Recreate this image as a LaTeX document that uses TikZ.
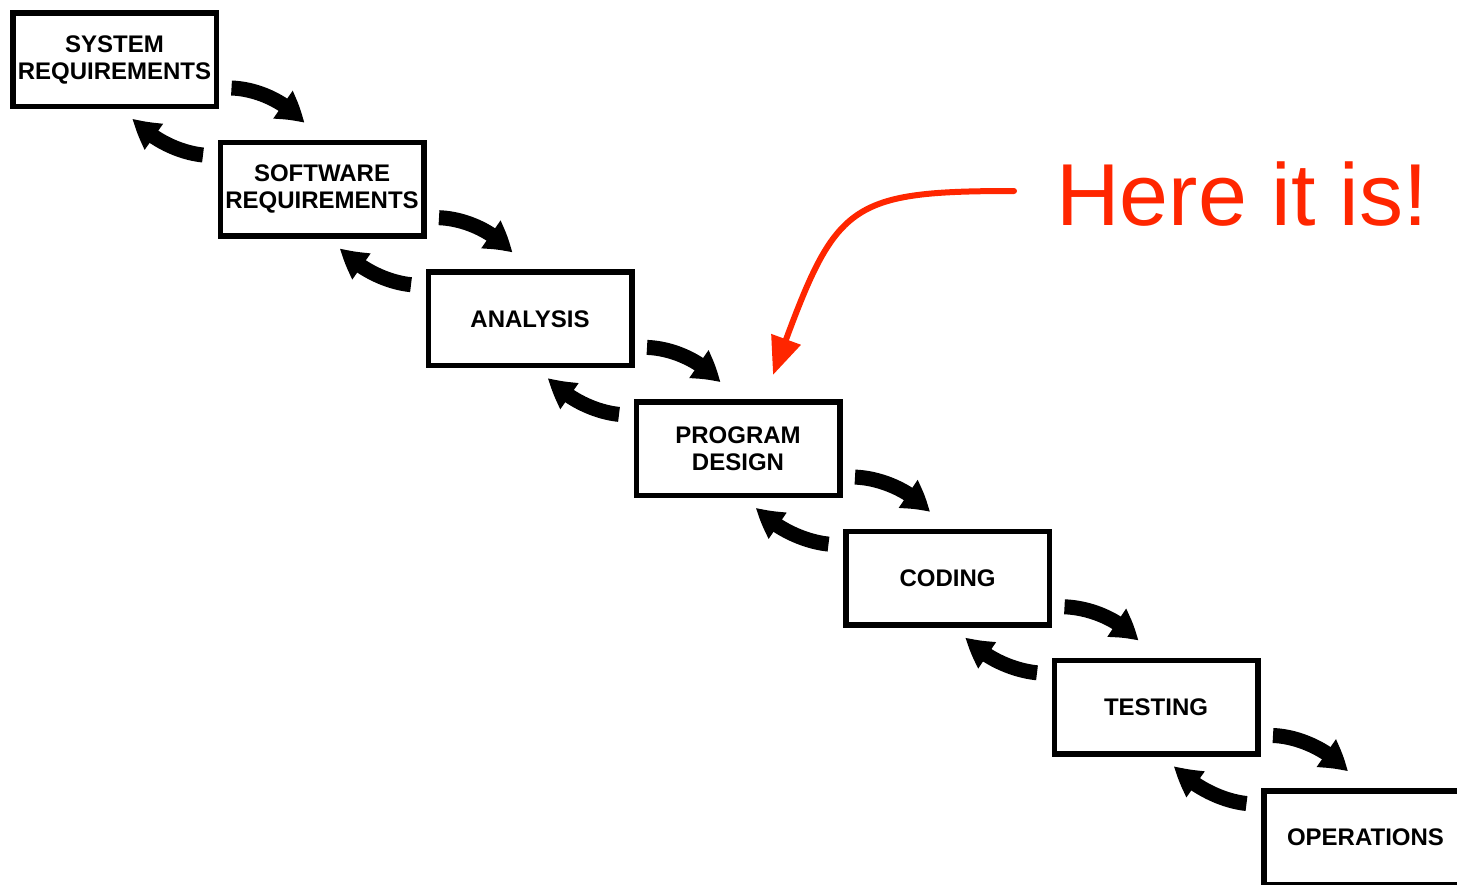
\documentclass[tikz,border=0pt]{standalone}
\usepackage{fontspec}
\setmainfont{Liberation Sans}
\usetikzlibrary{arrows.meta,bending}
\definecolor{notered}{RGB}{255,38,0}
\begin{document}
\begin{tikzpicture}[x=0.5pt,y=-0.5pt,
  stage/.style={draw=black, line width=2.75pt, minimum width=101.75pt,
    minimum height=46.75pt, inner sep=0pt, align=center,
    font=\bfseries\fontsize{12}{13.5}\selectfont},
  flow/.style={line width=7.5pt, -{Triangle[length=14pt,width=16pt,bend]}},
  backflow/.style={line width=7.5pt, -{Triangle[length=14pt,width=15pt,bend]}},
  callout/.style={notered, line width=3pt, line cap=round,
    -{Triangle[length=19pt,width=15pt]}},
]
\useasboundingbox (0,0) rectangle (1457,884);
\clip (0,0) rectangle (1457,884);

% the seven stages, stepping down to the right
\node[stage] (s1) at (114.5,59.5)  {SYSTEM\\REQUIREMENTS};
\node[stage] (s2) at (322,189.2)   {SOFTWARE\\REQUIREMENTS};
\node[stage] (s3) at (530,318.9)   {ANALYSIS};
\node[stage] (s4) at (738,448.6)   {PROGRAM\\DESIGN};
\node[stage] (s5) at (947.5,578.3) {CODING};
\node[stage] (s6) at (1156,707)    {TESTING};
\node[stage] (s7) at (1365.5,837.7){OPERATIONS};

% forward and backward arrows between neighbouring stages
\foreach \a/\b in {s1/s2, s2/s3, s3/s4, s4/s5, s5/s6, s6/s7} {
  \draw[flow] ([shift={(117,28.5)}]\a.center)
    .. controls ([shift={(144,29.5)}]\a.center)
    and ([shift={(-35.2,-86.6)}]\b.center)
    .. ([shift={(-18,-66)}]\b.center);
  \draw[backflow] ([shift={(-119,-34.2)}]\b.center)
    .. controls ([shift={(-145,-36.9)}]\b.center)
    and ([shift={(35.3,78.4)}]\a.center)
    .. ([shift={(18.2,58.8)}]\a.center);
}

% red annotation
\node[anchor=base west, inner sep=0pt, text=notered,
  font=\fontsize{44}{44}\selectfont] (hereit) at (1056,225) {Here it is!};
\coordinate (calloutstart) at (1014,191);
\coordinate (callouttip) at (773,375);
\draw[callout] (calloutstart) .. controls (840,191) and (835,205) .. (callouttip);
\end{tikzpicture}
\end{document}
